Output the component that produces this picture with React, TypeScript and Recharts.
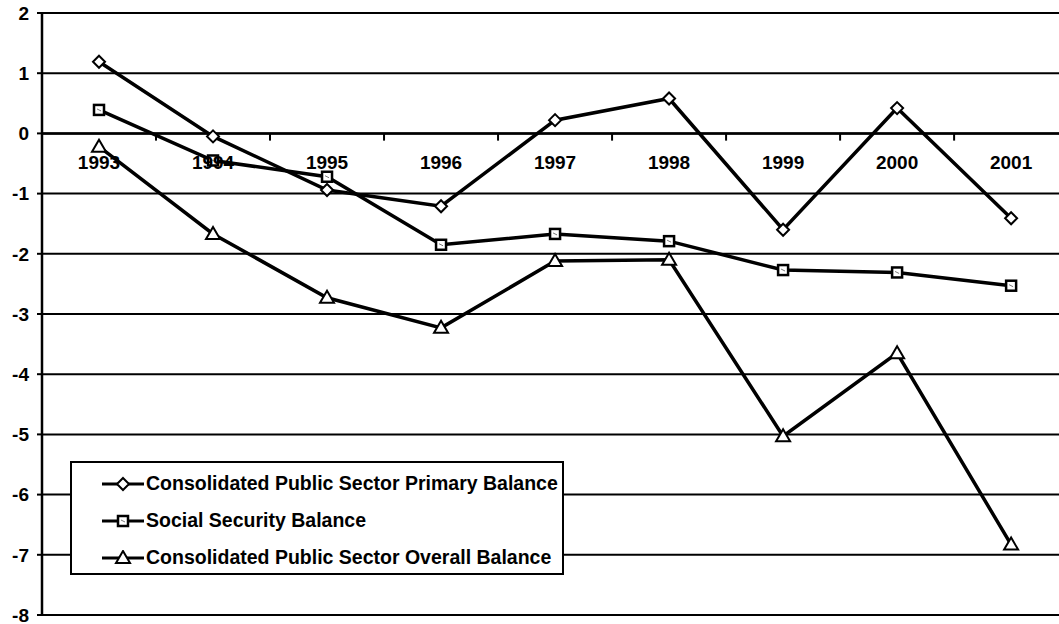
import { CartesianGrid, Line, LineChart, ReferenceDot, ReferenceLine, XAxis, YAxis } from "recharts"

// Values (percent of GDP)
const years = [1993, 1994, 1995, 1996, 1997, 1998, 1999, 2000, 2001]
const primaryBalance = [1.19, -0.05, -0.94, -1.21, 0.22, 0.58, -1.6, 0.42, -1.41]
const socialSecurity = [0.39, -0.45, -0.72, -1.85, -1.67, -1.79, -2.27, -2.31, -2.53]
const overallBalance = [-0.22, -1.67, -2.73, -3.23, -2.12, -2.1, -5.03, -3.65, -6.83]
const yTicks = [-8, -7, -6, -5, -4, -3, -2, -1, 0, 1, 2]
const betweenTicks = [1993.5, 1994.5, 1995.5, 1996.5, 1997.5, 1998.5, 1999.5, 2000.5]

const data = years.map((year, i) => ({
  year,
  primary: primaryBalance[i],
  social: socialSecurity[i],
  overall: overallBalance[i],
}))

const FONT = "'Liberation Sans', Arial, sans-serif"

type Shape = "diamond" | "square" | "triangle"

function marker(shape: Shape, cx: number, cy: number, key?: string | number) {
  if (shape === "diamond") {
    return (
      <polygon
        key={key}
        points={`${cx},${cy - 6} ${cx + 6},${cy} ${cx},${cy + 6} ${cx - 6},${cy}`}
        fill="#fff"
        stroke="#000"
        strokeWidth={2}
      />
    )
  }
  if (shape === "square") {
    return (
      <g key={key}>
        <rect x={cx - 5} y={cy - 5} width={10} height={10} fill="#fff" stroke="#000" strokeWidth={2.5} />
        <line x1={cx - 2} y1={cy - 1} x2={cx + 2} y2={cy + 1} stroke="#777" strokeWidth={1} />
      </g>
    )
  }
  return (
    <polygon
      key={key}
      points={`${cx},${cy - 7} ${cx + 7},${cy + 5} ${cx - 7},${cy + 5}`}
      fill="#fff"
      stroke="#000"
      strokeWidth={2}
    />
  )
}

const dotFor = (shape: Shape) => (props: any) => marker(shape, props.cx, props.cy, `${shape}-${props.index}`)

const legendItems: { label: string; shape: Shape }[] = [
  { label: "Consolidated Public Sector Primary Balance", shape: "diamond" },
  { label: "Social Security Balance", shape: "square" },
  { label: "Consolidated Public Sector Overall Balance", shape: "triangle" },
]

function LegendBox() {
  return (
    <div
      style={{
        position: "absolute",
        left: 70,
        top: 461,
        width: 490,
        height: 108,
        border: "2px solid #000",
        background: "#fff",
        paddingTop: 2,
      }}
    >
      {legendItems.map((item) => (
        <div key={item.label} style={{ display: "flex", alignItems: "center", height: 37, paddingLeft: 28 }}>
          <svg width={46} height={16} style={{ flexShrink: 0 }}>
            <line x1={2} y1={8} x2={44} y2={8} stroke="#000" strokeWidth={3} />
            {marker(item.shape, 23, 8)}
          </svg>
          <span style={{ fontFamily: FONT, fontWeight: 700, fontSize: 19.5, color: "#000", whiteSpace: "nowrap" }}>
            {item.label}
          </span>
        </div>
      ))}
    </div>
  )
}

export default function App() {
  return (
    <div style={{ position: "absolute", left: 0, top: 0, width: 1059, height: 624, background: "#fff" }}>
      <LineChart width={1059} height={624} data={data} margin={{ top: 13, right: 0, bottom: 9, left: 0 }}>
        <CartesianGrid vertical={false} stroke="#000" strokeWidth={2} />
        <XAxis dataKey="year" type="number" domain={[1992.5, 2001.42]} allowDataOverflow hide />
        <YAxis
          width={42}
          domain={[-8, 2]}
          ticks={yTicks}
          interval={0}
          axisLine={{ stroke: "#000", strokeWidth: 2.5 }}
          tickLine={{ stroke: "#000", strokeWidth: 2 }}
          tickSize={5}
          tick={{ fill: "#000", fontFamily: FONT, fontWeight: 700, fontSize: 19, dx: -6 }}
        />
        <ReferenceLine y={0} stroke="#000" strokeWidth={2.5} />
        {betweenTicks.map((t) => (
          <ReferenceLine
            key={t}
            segment={[
              { x: t, y: 0 },
              { x: t, y: -0.12 },
            ]}
            stroke="#000"
            strokeWidth={2}
          />
        ))}
        {years.map((y) => (
          <ReferenceDot
            key={y}
            x={y}
            y={0}
            r={0}
            fill="none"
            stroke="none"
            label={{
              value: String(y),
              position: "bottom",
              offset: 22,
              fill: "#000",
              fontFamily: FONT,
              fontWeight: 700,
              fontSize: 19,
            }}
          />
        ))}
        <Line dataKey="primary" stroke="#000" strokeWidth={3.5} dot={dotFor("diamond")} isAnimationActive={false} />
        <Line dataKey="social" stroke="#000" strokeWidth={3.5} dot={dotFor("square")} isAnimationActive={false} />
        <Line dataKey="overall" stroke="#000" strokeWidth={3.5} dot={dotFor("triangle")} isAnimationActive={false} />
      </LineChart>
      <LegendBox />
    </div>
  )
}
